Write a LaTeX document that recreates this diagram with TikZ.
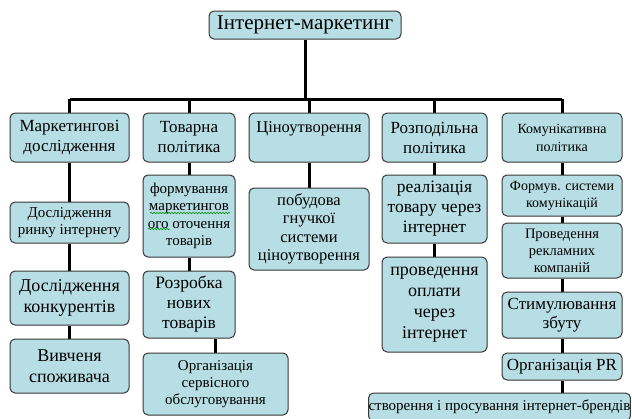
\documentclass[tikz,border=0pt]{standalone}
\usepackage{fontspec}
\setmainfont{Liberation Serif}
\usetikzlibrary{backgrounds,calc,decorations.pathmorphing}
\definecolor{boxfill}{RGB}{183,222,228}
\definecolor{boxline}{RGB}{55,55,55}
\newcommand\fz[2]{\fontsize{#1pt}{#2pt}\selectfont}
\tikzset{
  box/.style={draw=boxline, line width=1pt, fill=boxfill, rounded corners=5pt,
    align=center, inner sep=0pt},
  bx/.style n args={2}{minimum width=#1, minimum height=#2},
  link/.style={line width=3pt, draw=black},
  squig/.style={draw=green!55!black, line width=0.6pt, decorate,
    decoration={snake, segment length=3pt, amplitude=0.7pt}}
}
\begin{document}
\begin{tikzpicture}[x=1pt,y=-1pt]
\useasboundingbox (0,0) rectangle (632,418);
\clip (0,0) rectangle (632,418);
% root
\node[box,bx={192pt}{28pt},font=\fz{21}{24}] (root) at (305,25) {Інтернет-маркетинг};
% level 1
\node[box,bx={119pt}{49pt},font=\fz{17}{20}] (M1) at (69.5,137.5) {Маркетингові\\дослідження};
\node[box,bx={92pt}{49pt},font=\fz{17}{20}] (T1) at (189,137.5) {Товарна\\політика};
\node[box,bx={120pt}{49pt},font=\fz{16.5}{20}] (C1) at (309,137.5) {Ціноутворення\\\mbox{}};
\node[box,bx={105pt}{49pt},font=\fz{17}{20}] (R1) at (434.5,137.5) {Розподільна\\політика};
\node[box,bx={120pt}{49pt},font=\fz{14}{18}] (K1) at (562,137.5) {Комунікативна\\політика};
% M column
\node[box,bx={119pt}{41pt},font=\fz{15}{17.5}] (M2) at (69.5,222.5) {Дослідження\\ринку інтернету};
\node[box,bx={119pt}{54pt},font=\fz{18}{21}] (M3) at (69.5,298) {Дослідження\\конкурентів};
\node[box,bx={119pt}{54pt},font=\fz{18}{21}] (M4) at (69.5,366) {Вивченя\\споживача};
% T column
\node[box,bx={92pt}{82pt},font=\fz{15}{17.5}] (T2) at (189,216) {формування\\маркетингов\\ого оточення\\товарів};
\node[box,bx={92pt}{67pt},font=\fz{17.5}{20}] (T3) at (189,304.5) {Розробка\\нових\\товарів};
\node[box,bx={145pt}{62pt},font=\fz{15}{17}] (T4) at (215.5,384) {Організація\\сервісного\\обслуговування};
% C column
\node[box,bx={120pt}{82pt},font=\fz{16.5}{18.5}] (C2) at (309,229) {побудова\\гнучкої\\системи\\ціноутворення};
% R column
\node[box,bx={105pt}{68pt},font=\fz{17.5}{20}] (R2) at (434.5,209) {реалізація\\товару через\\інтернет};
\node[box,bx={105pt}{95pt},font=\fz{18}{21}] (R3) at (434.5,304.5) {проведення\\оплати\\через\\інтернет};
% K column
\node[box,bx={120pt}{41pt},font=\fz{14}{17}] (K2) at (562,195.5) {Формув. системи\\комунікацій};
\node[box,bx={120pt}{55pt},font=\fz{14.5}{17}] (K3) at (562,250.5) {Проведення\\рекламних\\компаній};
\node[box,bx={120pt}{46pt},font=\fz{17}{19.5}] (K4) at (562,315) {Стимулювання\\збуту};
\node[box,bx={120pt}{27pt},font=\fz{17}{20}] (K5) at (562,366.5) {Організація PR};
\node[box,bx={261pt}{28pt},font=\fz{15}{18}] (K6) at (499.5,407) {створення і просування інтернет-брендів};
% spell-check squiggles
\draw[squig] ($(T2.center)+(-39,-3)$) -- ($(T2.center)+(41,-3)$);
\draw[squig] ($(T2.center)+(-41,13)$) -- ($(T2.center)+(-19,13)$);
% connectors
\begin{pgfonlayer}{background}
\coordinate (bar) at (0,99);
\draw[link] (root.south) -- (root.south |- bar);
\draw[link] (M1.north |- bar) -- (K1.north |- bar);
\foreach \n in {M1,T1,C1,R1,K1} \draw[link] (\n.north) -- (\n.north |- bar);
\draw[link] (M1) -- (M2) -- (M3) -- (M4);
\draw[link] (T1) -- (T2) -- (T3);
\draw[link] (T4.north) -- (T4.north |- T3.south);
\draw[link] (C1) -- (C2);
\draw[link] (R1) -- (R2) -- (R3);
\draw[link] (K1) -- (K2) -- (K3) -- (K4) -- (K5);
\draw[link] (K5.south) -- (K5.south |- K6.north);
\end{pgfonlayer}
\end{tikzpicture}
\end{document}
